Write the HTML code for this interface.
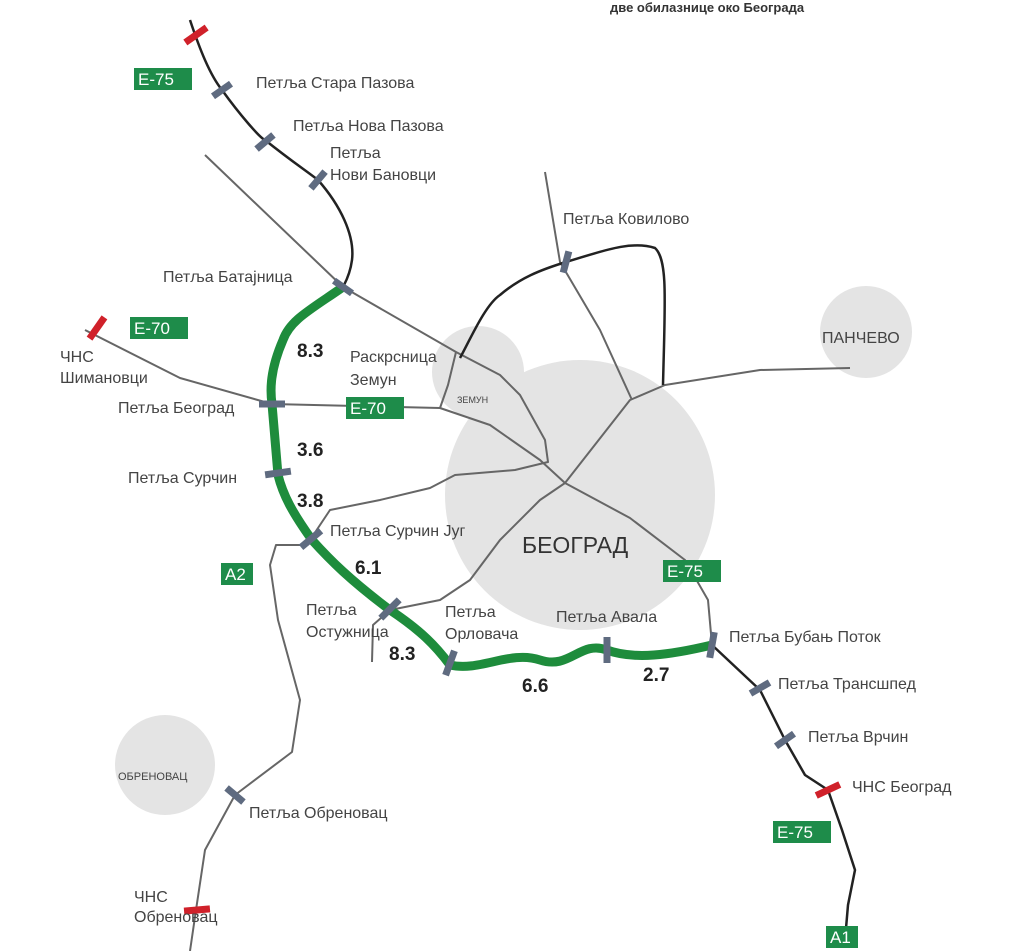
<!DOCTYPE html>
<html><head><meta charset="utf-8"><style>
html,body{margin:0;padding:0;background:#fff;}
svg{display:block}
text{font-family:"Liberation Sans",sans-serif;fill:#444;font-size:16px}
.n{font-weight:bold;font-size:19px;fill:#222}
.sg{fill:#1e8c4a}
.st{fill:#fff;font-size:17px}
</style></head><body>
<svg width="1024" height="951" viewBox="0 0 1024 951">
<text x="610" y="12" style="font-size:13px;fill:#333;font-weight:bold">две обилазнице око Београда</text>
<circle cx="580" cy="495" r="135" fill="#e4e4e4"/>
<circle cx="478" cy="372" r="46" fill="#e4e4e4"/>
<circle cx="866" cy="332" r="46" fill="#e4e4e4"/>
<circle cx="165" cy="765" r="50" fill="#e4e4e4"/>
<g fill="none" stroke="#666" stroke-width="2" stroke-linejoin="round">
<path d="M205,155 L343,287 L456,352 L500,375 L520,395 L545,440 L548,462 L515,470 L455,475 L430,488 L380,500 L330,510 L310,540"/>
<path d="M85,330 L180,378 L272,404 L440,408 L490,425 L540,460 L565,483 L630,518 L685,560 L708,600 L712,645"/>
<path d="M390,610 L440,600 L470,580 L500,540 L540,500 L565,483 L630,400 L665,385 L760,370 L850,368"/>
<path d="M545,172 L560,262 L600,330 L632,400"/>
<path d="M456,352 L448,385 L440,408"/>
<path d="M372,662 L373,625 L390,610"/>
<path d="M305,545 L276,545 L270,565 L278,620 L300,700 L292,752 L235,795 L205,850 L196,910 L190,951"/>
</g>
<g fill="none" stroke="#222" stroke-width="2.5" stroke-linejoin="round">
<path d="M190,20 C200,50 210,75 222,90 C240,115 260,138 265,140 C290,160 305,170 318,180 C340,205 355,235 352,260 C350,275 345,283 343,287"/>
<path d="M460,358 C470,340 485,305 500,295 C520,278 540,270 566,262 C600,252 630,240 655,248 C668,260 665,300 663,385"/>
<path d="M712,645 L760,690 L785,740 L805,775 L828,790 L842,830 L855,870 L848,905 L845,940"/>
</g>
<path d="M343,287 C310,310 290,320 283,340 C270,370 270,390 272,404 L278,475 C283,495 292,512 312,540 C330,560 350,580 390,610 C420,630 435,645 450,665 C480,672 510,650 540,660 S580,640 607,650 S670,655 712,645" fill="none" stroke="#1e8c3c" stroke-width="9" stroke-linejoin="round"/>
<g fill="#5f6b80">
<rect x="-11" y="-3.5" width="22" height="7" transform="translate(222,90) rotate(-35)"/>
<rect x="-11" y="-3.5" width="22" height="7" transform="translate(265,142) rotate(-40)"/>
<rect x="-11" y="-3.5" width="22" height="7" transform="translate(318,180) rotate(-50)"/>
<rect x="-11" y="-3.5" width="22" height="7" transform="translate(343,287) rotate(35)"/>
<rect x="-13" y="-3.5" width="26" height="7" transform="translate(272,404)"/>
<rect x="-13" y="-3.5" width="26" height="7" transform="translate(278,473) rotate(-8)"/>
<rect x="-13" y="-3.5" width="26" height="7" transform="translate(311,539) rotate(-40)"/>
<rect x="-13" y="-3.5" width="26" height="7" transform="translate(390,609) rotate(-45)"/>
<rect x="-13" y="-3.5" width="26" height="7" transform="translate(450,663) rotate(-70)"/>
<rect x="-13" y="-3.5" width="26" height="7" transform="translate(607,650) rotate(-90)"/>
<rect x="-13" y="-3.5" width="26" height="7" transform="translate(712,645) rotate(-80)"/>
<rect x="-11" y="-3.5" width="22" height="7" transform="translate(760,688) rotate(-30)"/>
<rect x="-11" y="-3.5" width="22" height="7" transform="translate(785,740) rotate(-35)"/>
<rect x="-11" y="-3.5" width="22" height="7" transform="translate(566,262) rotate(-75)"/>
<rect x="-11" y="-3.5" width="22" height="7" transform="translate(235,795) rotate(40)"/>
</g>
<g fill="#d0212a">
<rect x="-13" y="-3.5" width="26" height="7" transform="translate(196,35) rotate(-35)"/>
<rect x="-13" y="-3.5" width="26" height="7" transform="translate(97,328) rotate(-55)"/>
<rect x="-13" y="-3.5" width="26" height="7" transform="translate(828,790) rotate(-25)"/>
<rect x="-13" y="-3.5" width="26" height="7" transform="translate(197,910) rotate(-5)"/>
</g>
<g>
<rect class="sg" x="134" y="68" width="58" height="22"/><text class="st" x="138" y="85">E-75</text>
<rect class="sg" x="130" y="317" width="58" height="22"/><text class="st" x="134" y="334">E-70</text>
<rect class="sg" x="346" y="397" width="58" height="22"/><text class="st" x="350" y="414">E-70</text>
<rect class="sg" x="663" y="560" width="58" height="22"/><text class="st" x="667" y="577">E-75</text>
<rect class="sg" x="773" y="821" width="58" height="22"/><text class="st" x="777" y="838">E-75</text>
<rect class="sg" x="221" y="563" width="32" height="22"/><text class="st" x="225" y="580">A2</text>
<rect class="sg" x="826" y="926" width="32" height="22"/><text class="st" x="830" y="943">A1</text>
</g>
<text x="256" y="88">Петља Стара Пазова</text>
<text x="293" y="131">Петља Нова Пазова</text>
<text x="330" y="158">Петља</text>
<text x="330" y="180">Нови Бановци</text>
<text x="563" y="224">Петља Ковилово</text>
<text x="163" y="282">Петља Батајница</text>
<text x="822" y="343">ПАНЧЕВО</text>
<text x="60" y="362">ЧНС</text>
<text x="60" y="383">Шимановци</text>
<text x="350" y="362">Раскрсница</text>
<text x="350" y="385">Земун</text>
<text x="457" y="403" style="font-size:9px">ЗЕМУН</text>
<text x="118" y="413">Петља Београд</text>
<text x="128" y="483">Петља Сурчин</text>
<text x="330" y="536">Петља Сурчин Југ</text>
<text x="522" y="553" style="font-size:23px;fill:#333">БЕОГРАД</text>
<text x="306" y="615">Петља</text>
<text x="306" y="637">Остужница</text>
<text x="445" y="617">Петља</text>
<text x="445" y="639">Орловача</text>
<text x="556" y="622">Петља Авала</text>
<text x="729" y="642">Петља Бубањ Поток</text>
<text x="778" y="689">Петља Трансшпед</text>
<text x="808" y="742">Петља Врчин</text>
<text x="852" y="792">ЧНС Београд</text>
<text x="118" y="780" style="font-size:11px">ОБРЕНОВАЦ</text>
<text x="249" y="818">Петља Обреновац</text>
<text x="134" y="902">ЧНС</text>
<text x="134" y="922">Обреновац</text>
<text class="n" x="297" y="357">8.3</text>
<text class="n" x="297" y="456">3.6</text>
<text class="n" x="297" y="507">3.8</text>
<text class="n" x="355" y="574">6.1</text>
<text class="n" x="389" y="660">8.3</text>
<text class="n" x="522" y="692">6.6</text>
<text class="n" x="643" y="681">2.7</text>
</svg>
</body></html>
